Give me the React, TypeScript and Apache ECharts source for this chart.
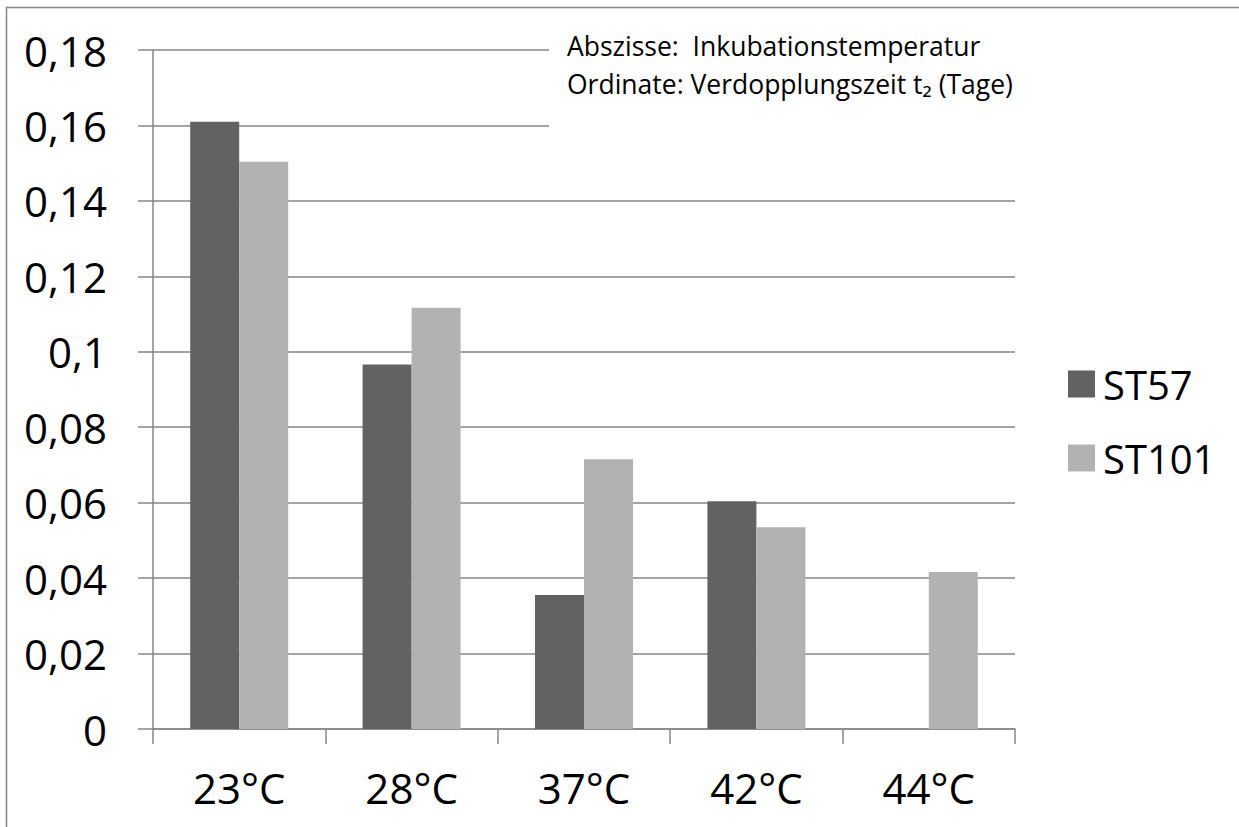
import React, { useEffect, useRef } from "react";
import * as echarts from "echarts";

const categories = ["23°C", "28°C", "37°C", "42°C", "44°C"];
const seriesNames = ["ST57", "ST101"];
const st57 = [0.161, 0.0966, 0.0355, 0.0604, null];
const st101 = [0.1504, 0.1117, 0.0715, 0.0535, 0.0416];
const noteLines = ["Abszisse:  Inkubationstemperatur", "Ordinate: Verdopplungszeit t₂ (Tage)"];

const FONT = "'Open Sans', 'DejaVu Sans', sans-serif";
const AXIS = "#868686";

export default function App() {
  const ref = useRef<HTMLDivElement>(null);
  useEffect(() => {
    if (!ref.current) return;
    const chart = echarts.init(ref.current, undefined, { renderer: "svg" });
    chart.setOption({
      animation: false,
      backgroundColor: "#ffffff",
      textStyle: { fontFamily: FONT },
      grid: { left: 153, right: 224, top: 50, bottom: 98, containLabel: false },
      legend: {
        orient: "vertical",
        left: 1063,
        top: 359,
        itemWidth: 27,
        itemHeight: 27,
        itemGap: 34,
        icon: "rect",
        data: seriesNames,
        textStyle: { fontFamily: FONT, fontSize: 40, color: "#000", lineHeight: 27, padding: [0, 0, 0, 3] },
      },
      xAxis: {
        type: "category",
        data: categories,
        axisLine: { lineStyle: { color: AXIS, width: 1.5 } },
        axisTick: { show: true, length: 15, lineStyle: { color: AXIS, width: 1.5 } },
        axisLabel: { fontFamily: FONT, fontSize: 42, color: "#000", margin: 37 },
      },
      yAxis: {
        type: "value",
        min: 0,
        max: 0.18,
        interval: 0.02,
        axisLine: { show: true, lineStyle: { color: AXIS, width: 1.5 } },
        axisTick: { show: true, length: 15, lineStyle: { color: AXIS, width: 1.5 } },
        splitLine: { lineStyle: { color: AXIS, width: 1.5 } },
        axisLabel: {
          fontFamily: FONT,
          fontSize: 42,
          color: "#000",
          margin: 46,
          formatter: (v: number) => String(Math.round(v * 100) / 100).replace(".", ","),
        },
      },
      series: [
        {
          name: seriesNames[0],
          type: "bar",
          data: st57,
          barWidth: 49,
          barGap: "0%",
          itemStyle: { color: "#626262" },
        },
        {
          name: seriesNames[1],
          type: "bar",
          data: st101,
          barWidth: 49,
          itemStyle: { color: "#b2b2b2" },
        },
      ],
      graphic: [
        { type: "line", shape: { x1: 6, y1: 7.5, x2: 1239, y2: 7.5 }, style: { stroke: AXIS, lineWidth: 1.5 }, silent: true },
        { type: "line", shape: { x1: 6.5, y1: 7, x2: 6.5, y2: 827 }, style: { stroke: AXIS, lineWidth: 1.5 }, silent: true },
        { type: "rect", shape: { x: 549, y: 25, width: 470, height: 110 }, style: { fill: "#ffffff" }, z: 100, silent: true },
        {
          type: "text",
          x: 567,
          y: 46,
          z: 101,
          style: { text: noteLines[0], font: `26.5px ${FONT}`, fill: "#000", verticalAlign: "middle", align: "left" },
        },
        {
          type: "text",
          x: 567,
          y: 84,
          z: 101,
          style: { text: noteLines[1], font: `26.5px ${FONT}`, fill: "#000", verticalAlign: "middle", align: "left" },
        },
      ],
    });
    return () => chart.dispose();
  }, []);
  return <div ref={ref} style={{ position: "absolute", left: 0, top: 0, width: 1239, height: 827 }} />;
}
